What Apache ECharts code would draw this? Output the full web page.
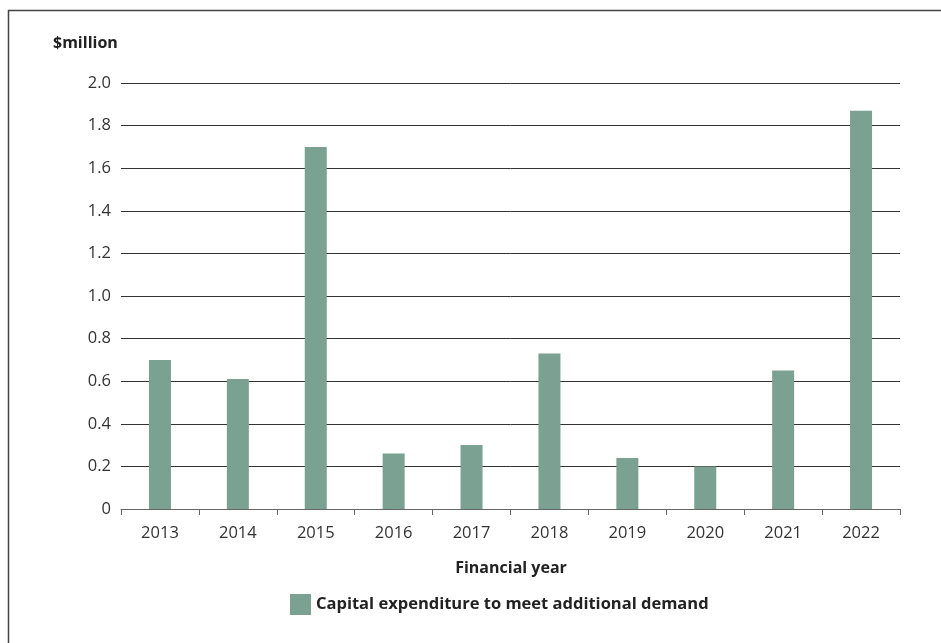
<!DOCTYPE html>
<html>
<head>
<meta charset="utf-8">
<script src="https://cdn.jsdelivr.net/npm/echarts@6/dist/echarts.min.js"></script>
<style>html,body{margin:0;padding:0;background:#fff}#c{width:941px;height:643px}</style>
</head>
<body>
<div id="c"></div>
<script>
const categories = ['2013','2014','2015','2016','2017','2018','2019','2020','2021','2022'];
const capexValues = [0.70, 0.61, 1.70, 0.26, 0.30, 0.73, 0.24, 0.20, 0.65, 1.87];
const seriesName = 'Capital expenditure to meet additional demand';
const yTickLabels = {0:'0', 0.2:'0.2', 0.4:'0.4', 0.6:'0.6', 0.8:'0.8', 1:'1.0', 1.2:'1.2', 1.4:'1.4', 1.6:'1.6', 1.8:'1.8', 2:'2.0'};

const font = '"Open Sans", "Noto Sans", sans-serif';
const chart = echarts.init(document.getElementById('c'), null, {renderer:'canvas'});
chart.setOption({
  animation:false,
  textStyle:{fontFamily:font},
  graphic:[
    {type:'rect', shape:{x:8.5, y:10.5, width:1200, height:1200}, style:{fill:'none', stroke:'#444', lineWidth:1.5}, silent:true},
    {type:'text', left:53, top:35, style:{text:'$million', fontFamily:font, fontWeight:'bold', fontSize:16, fill:'#222'}},
    {type:'text', x:511, y:568, style:{text:'Financial year', fontFamily:font, fontWeight:'bold', fontSize:16, fill:'#222', align:'center', verticalAlign:'middle'}}
  ],
  grid:{left:121, right:41, top:83, bottom:134, containLabel:false},
  legend:{
    data:[seriesName], left:285, top:589, itemWidth:21, itemHeight:21, itemGap:10,
    textStyle:{fontFamily:font, fontWeight:'bold', fontSize:16.5, color:'#222'},
    icon:'rect'
  },
  xAxis:{
    type:'category', data:categories,
    axisLine:{lineStyle:{color:'#666', width:1}},
    axisTick:{show:true, length:6, lineStyle:{color:'#666'}},
    axisLabel:{color:'#333', fontSize:16.5, margin:16, fontFamily:font}
  },
  yAxis:{
    type:'value', min:0, max:2, interval:0.2,
    axisLine:{show:false}, axisTick:{show:false},
    splitLine:{lineStyle:{color:'#333', width:1}},
    axisLabel:{color:'#333', fontSize:16.5, margin:10, fontFamily:font,
      formatter:v=>{const k=Math.round(v*10)/10; return yTickLabels[k]!==undefined?yTickLabels[k]:String(k);}}
  },
  series:[{
    name:seriesName, type:'bar', data:capexValues, barWidth:22,
    itemStyle:{color:'#7aa191'}
  }]
});
</script>
</body>
</html>
